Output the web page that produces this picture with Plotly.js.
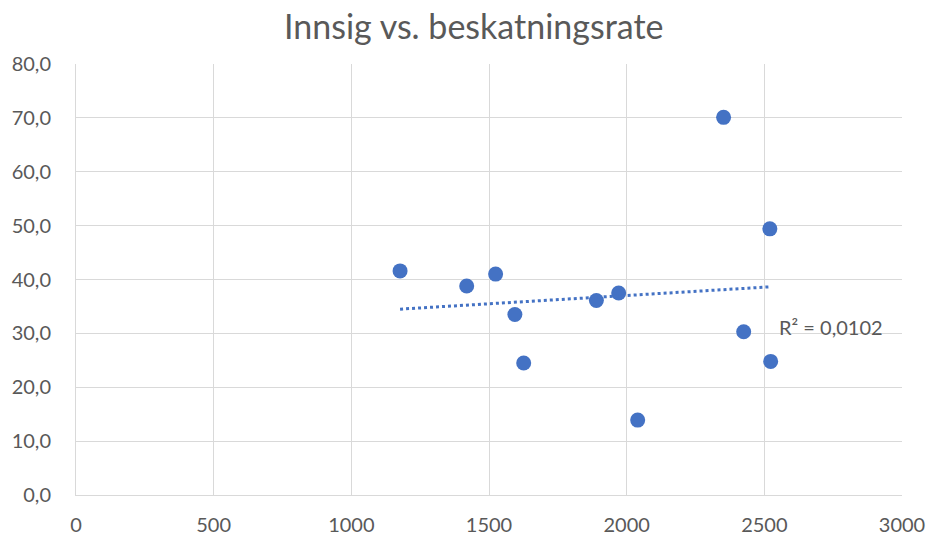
<!DOCTYPE html>
<html><head><meta charset="utf-8">
<script src="https://cdn.plot.ly/plotly-3.0.1.min.js"></script>
<style>body{margin:0;background:#fff}#c{width:929px;height:540px}</style>
</head><body><div id="c"></div>
<script>
const innsig = [1177, 1419, 1524, 1594, 1626, 1890, 1971, 2040, 2352, 2520, 2425, 2523];
const rate = [41.6, 38.8, 41.0, 33.5, 24.5, 36.1, 37.5, 13.9, 70.1, 49.4, 30.3, 24.8];
const xTicks = [0, 500, 1000, 1500, 2000, 2500, 3000];
const yTicks = [0, 10, 20, 30, 40, 50, 60, 70, 80];
const r2Label = "R² = 0,0102";

// linear trendline (least squares)
const n = innsig.length;
const mx = innsig.reduce((a,b)=>a+b,0)/n, my = rate.reduce((a,b)=>a+b,0)/n;
let sxy=0, sxx=0;
for (let i=0;i<n;i++){sxy+=(innsig[i]-mx)*(rate[i]-my); sxx+=(innsig[i]-mx)**2;}
const slope = sxy/sxx, icpt = my - slope*mx;
const tx = [Math.min(...innsig), Math.max(...innsig)];
const ty = tx.map(v=>icpt+slope*v);

const font = "Lato, 'Open Sans', sans-serif";
const data = [
  {x: innsig, y: rate, type:'scatter', mode:'markers',
   marker:{color:'#4472c4', size:15}, hoverinfo:'x+y', showlegend:false},
  {x: tx, y: ty, type:'scatter', mode:'lines',
   line:{color:'#4472c4', width:3, dash:'dot'}, showlegend:false}
];
const layout = {
  width:929, height:540,
  margin:{l:76, r:27, t:64, b:45},
  paper_bgcolor:'#fff', plot_bgcolor:'#fff',
  separators:', ',
  font:{family:font, color:'#595959', size:20},
  title:{text:'Innsig vs. beskatningsrate', font:{size:34, color:'#595959', family:font}, x:0.51, xanchor:'center', y:0.95, yanchor:'middle'},
  xaxis:{range:[0,3000], tickvals:xTicks, tickformat:'d', showgrid:true, gridcolor:'#d9d9d9', gridwidth:1,
         zeroline:false, showline:true, linecolor:'#d9d9d9', linewidth:1, ticks:'', ticklabelstandoff:12, fixedrange:true},
  yaxis:{range:[0,80], tickvals:yTicks, tickformat:'.1f', showgrid:true, gridcolor:'#d9d9d9', gridwidth:1,
         zeroline:false, showline:true, linecolor:'#d9d9d9', linewidth:1, ticks:'', ticklabelstandoff:20, fixedrange:true},
  annotations:[{x:2546, y:31.2, xref:'x', yref:'y', text:r2Label, showarrow:false, xanchor:'left', yanchor:'middle',
                font:{size:20, color:'#595959', family:font}}]
};
Plotly.newPlot('c', data, layout, {displayModeBar:false, staticPlot:true});
</script></body></html>
